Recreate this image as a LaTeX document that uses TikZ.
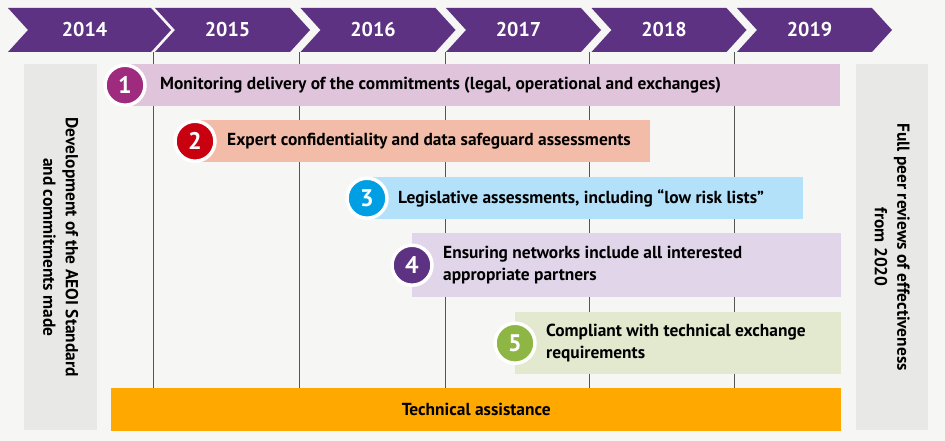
\documentclass[tikz,border=0pt]{standalone}
\usepackage{fontspec}
\setmainfont{PT Sans}
\usepackage{tikz}
\usetikzlibrary{positioning}
\usepackage{xcolor}
\definecolor{aeoibg}     {RGB}{246, 246, 244}
\definecolor{aeoipurple} {RGB}{ 94,  50, 130}
\definecolor{aeoipanel}  {RGB}{232, 232, 230}
\definecolor{aeoigrid}   {RGB}{ 85,  85,  85}
\definecolor{aeoiorange} {RGB}{255, 168,   0}
\definecolor{barpink}    {RGB}{224, 196, 220}
\definecolor{barsalmon}  {RGB}{242, 188, 168}
\definecolor{barblue}    {RGB}{178, 225, 249}
\definecolor{barlilac}   {RGB}{225, 213, 233}
\definecolor{bargreen}   {RGB}{226, 233, 207}
\definecolor{circmagenta}{RGB}{158,  43, 126}
\definecolor{circred}    {RGB}{200,   0,  15}
\definecolor{circblue}   {RGB}{  0, 159, 227}
\definecolor{circpurple} {RGB}{ 94,  50, 130}
\definecolor{circgreen}  {RGB}{141, 182,  68}

\begin{document}
\begin{tikzpicture}[
  x=1pt,y=-1pt,
  every node/.style={font=\bfseries\fontsize{17.4}{22.5}\selectfont},
  yr/.style={text=white,font=\bfseries\fontsize{20}{22}\selectfont},
  panel/.style={fill=aeoipanel,anchor=north west,inner sep=0pt,
                minimum width=73pt,minimum height=366pt},
  bar/.style={anchor=north west,inner sep=0pt,minimum height=42pt},
  num/.style={circle,draw=white,line width=3.5pt,minimum size=40pt,inner sep=0pt,
              text=white,font=\bfseries\fontsize{24}{24}\selectfont},
  lbl/.style={inner sep=0pt,align=left},
  vtxt/.style={rotate=-90,align=center,inner sep=0pt},
]

%% Background and page size
\fill[aeoibg] (0,0) rectangle (945,441);
\useasboundingbox (0,0) rectangle (945,441);

%% Year chevrons
\foreach \x/\w/\yr in {8/143/2014,155/135/2015,300.5/135/2016,
                       446/135/2017,591.5/135/2018,737/135/2019}{
  \fill[aeoipurple] (\x,8) -- ++(\w,0) -- ++(20,22) -- ++(-20,22)
    -- (\x,52) -- ++(20,-22) -- cycle;
  \node[yr] (y\yr) at (\x+\w/2+5,30) {\yr};
}

%% Year grid lines
\foreach \x in {153,299,445,589,734}
  \draw[aeoigrid,line width=0.8pt] (\x,52) -- (\x,430);

%% Side panels
\node[panel] (dev) at (24,64) {};
\node[vtxt] (devtxt) at (dev.center)
  {Development of the AEOI Standard\\and commitments made};
\node[panel,minimum width=72pt] (peer) at (856,64) {};
\node[vtxt] (peertxt) at (peer.center)
  {Full peer reviews of effectiveness\\from 2020};

%% Work streams
\node[bar,fill=barpink,  minimum width=715pt] (bar1) at (125,64)  {};
\node[bar,fill=barsalmon,minimum width=455pt] (bar2) at (195,120) {};
\node[bar,fill=barblue,  minimum width=436pt] (bar3) at (367,177) {};
\node[bar,fill=barlilac, minimum width=429pt,minimum height=64pt] (bar4) at (412,233) {};
\node[bar,fill=bargreen, minimum width=326pt,minimum height=62pt] (bar5) at (515,312) {};

\node[num,fill=circmagenta] (n1) at (bar1.west) {1};
\node[num,fill=circred]     (n2) at (bar2.west) {2};
\node[num,fill=circblue]    (n3) at (bar3.west) {3};
\node[num,fill=circpurple]  (n4) at (bar4.west) {4};
\node[num,fill=circgreen]   (n5) at (bar5.west) {5};

\node[lbl,right=35pt of n1.center] (t1)
  {Monitoring delivery of the commitments (legal, operational and exchanges)};
\node[lbl,right=32pt of n2.center] (t2)
  {Expert confidentiality and data safeguard assessments};
\node[lbl,right=31pt of n3.center] (t3)
  {Legislative assessments, including \textquotedblleft low risk lists\textquotedblright};
\node[lbl,right=31pt of n4.center] (t4)
  {Ensuring networks include all interested\\appropriate partners};
\node[lbl,right=31pt of n5.center] (t5)
  {Compliant with technical exchange\\requirements};

%% Technical assistance
\node[bar,fill=aeoiorange,minimum width=730pt,minimum height=43pt] (ta) at (111,388) {};
\node (tatxt) at (ta.center) {Technical assistance};

\end{tikzpicture}
\end{document}
